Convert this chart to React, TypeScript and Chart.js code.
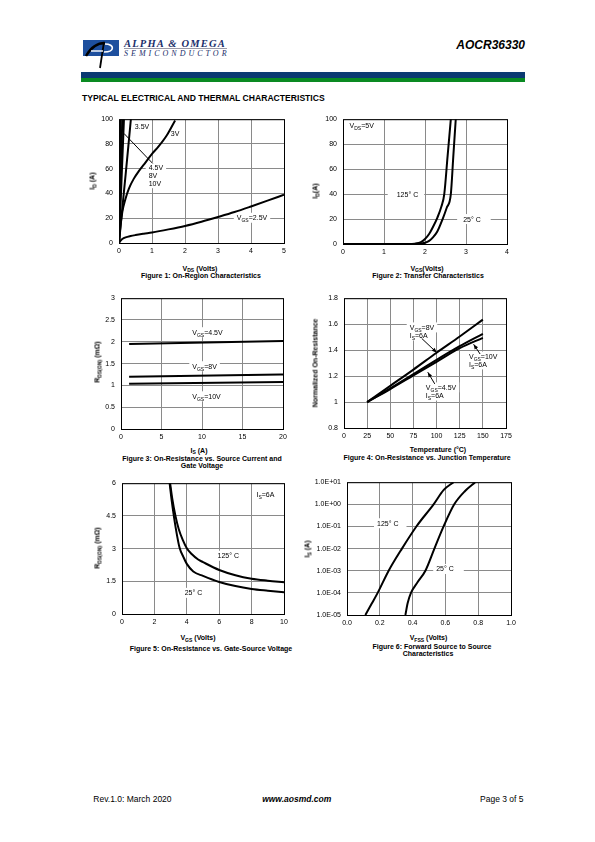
import React, { useEffect, useRef } from 'react';
import { Chart, registerables } from 'chart.js';

Chart.register(...registerables);

const FONT = "'Liberation Sans', Arial, Helvetica, sans-serif";
const SERIF = "'Liberation Serif', 'Times New Roman', serif";
const GRID = '#8a8a8a';

// ---------- Figure 1: On-Region Characteristics ----------
const F1_X_MIN = 0, F1_X_MAX = 5, F1_X_STEP = 1;
const F1_Y_MIN = 0, F1_Y_MAX = 100, F1_Y_STEP = 20;
const F1_VDS_10V = [0, 0.05];
const F1_ID_10V = [0, 100];
const F1_VDS_8V = [0, 0.1];
const F1_ID_8V = [0, 100];
const F1_VDS_45V = [0, 0.15];
const F1_ID_45V = [0, 100];
const F1_VDS_35V = [0, 0.05, 0.1, 0.2, 0.3, 0.36];
const F1_ID_35V = [0, 14, 28, 55, 83, 100];
const F1_VDS_3V = [0, 0.03, 0.1, 0.2, 0.3, 0.45, 0.6, 0.8, 1.0, 1.2, 1.45, 1.7];
const F1_ID_3V = [0, 10, 25, 36, 44, 52, 58, 65, 72, 78, 87, 99];
const F1_VDS_25V = [0, 0.05, 0.1, 0.2, 0.35, 0.5, 0.75, 1, 1.5, 2, 2.5, 3, 3.5, 4, 4.5, 5];
const F1_ID_25V = [0, 2, 3.2, 4.5, 5.6, 6.4, 7.5, 8.5, 11, 13.8, 17.2, 21, 25, 29.5, 34.2, 39];

// ---------- Figure 2: Transfer Characteristics ----------
const F2_X_MIN = 0, F2_X_MAX = 4, F2_X_STEP = 1;
const F2_Y_MIN = 0, F2_Y_MAX = 100, F2_Y_STEP = 20;
const F2_VGS_125 = [0, 1.6, 1.75, 1.9, 2.0, 2.1, 2.2, 2.3, 2.4, 2.47, 2.55, 2.63];
const F2_ID_125 = [0, 0, 0.3, 1.5, 4, 8, 14, 21, 30, 40, 70, 100];
const F2_VGS_25 = [0, 1.75, 1.9, 2.0, 2.1, 2.2, 2.3, 2.43, 2.53, 2.63, 2.69, 2.75];
const F2_ID_25 = [0, 0, 0.4, 1, 2.5, 5.5, 10, 20, 29, 40, 70, 100];

// ---------- Figure 3: On-Resistance vs. Source Current ----------
const F3_X_MIN = 0, F3_X_MAX = 20, F3_X_STEP = 5;
const F3_Y_MIN = 0, F3_Y_MAX = 3, F3_Y_STEP = 0.5;
const F3_IS = [1, 20];
const F3_R_45V = [1.95, 2.02];
const F3_R_8V = [1.2, 1.25];
const F3_R_10V = [1.04, 1.08];

// ---------- Figure 4: On-Resistance vs. Junction Temperature ----------
const F4_X_MIN = 0, F4_X_MAX = 175, F4_X_STEP = 25;
const F4_Y_MIN = 0.8, F4_Y_MAX = 1.8, F4_Y_STEP = 0.2;
const F4_TEMP = [25, 50, 75, 100, 125, 150];
const F4_R_8V = [1.0, 1.125, 1.25, 1.38, 1.505, 1.635];
const F4_R_10V = [1.0, 1.105, 1.215, 1.325, 1.43, 1.525];
const F4_R_45V = [1.0, 1.1, 1.205, 1.31, 1.415, 1.495];

// ---------- Figure 5: On-Resistance vs. Gate-Source Voltage ----------
const F5_X_MIN = 0, F5_X_MAX = 10, F5_X_STEP = 2;
const F5_Y_MIN = 0, F5_Y_MAX = 6, F5_Y_STEP = 1.5;
const F5_VGS_25 = [2.94, 3.05, 3.2, 3.35, 3.55, 3.8, 4.0, 4.4, 5, 6, 7, 8, 9, 10];
const F5_R_25 = [6.0, 5.3, 4.5, 3.8, 3.05, 2.6, 2.3, 1.95, 1.75, 1.47, 1.28, 1.15, 1.07, 1.0];
const F5_VGS_125 = [2.97, 3.1, 3.3, 3.5, 3.75, 4.0, 4.3, 4.7, 5, 6, 7, 8, 9, 10];
const F5_R_125 = [6.0, 5.3, 4.5, 3.9, 3.4, 3.02, 2.75, 2.5, 2.38, 2.02, 1.78, 1.62, 1.53, 1.46];

// ---------- Figure 6: Forward Source to Source Characteristics ----------
const F6_X_MIN = 0, F6_X_MAX = 1, F6_X_STEP = 0.2;
const F6_Y_TICKS = [1e-5, 1e-4, 1e-3, 1e-2, 1e-1, 1, 10];
const F6_V_125 = [0.112, 0.15, 0.187, 0.254, 0.335, 0.423, 0.528, 0.59, 0.65];
const F6_IS_125 = [1e-5, 3.2e-5, 1e-4, 1e-3, 1e-2, 1e-1, 1, 4.5, 10];
const F6_V_25 = [0.356, 0.37, 0.39, 0.43, 0.478, 0.533, 0.589, 0.654, 0.72, 0.782];
const F6_IS_25 = [1e-5, 3.5e-5, 1e-4, 3e-4, 1e-3, 1e-2, 1e-1, 1, 4, 10];

// ---------- layout helpers ----------
const PAD_L = 45, PAD_T = 10, PAD_R = 12, PAD_B = 16;
const MAIN = 7, SUB = 5;

type Part = { t: string; sub?: boolean };
type Ann =
  | { kind: 'text'; x: number; y: number; parts: Part[]; box?: boolean; padL?: number; padR?: number }
  | { kind: 'line'; x1: number; y1: number; x2: number; y2: number; arrow?: boolean };

const P = (t: string): Part => ({ t });
const S = (t: string): Part => ({ t, sub: true });

function setFont(ctx: CanvasRenderingContext2D, size: number) {
  ctx.font = `${size}px ${FONT}`;
}
function measureParts(ctx: CanvasRenderingContext2D, parts: Part[]) {
  let w = 0;
  for (const p of parts) {
    setFont(ctx, p.sub ? SUB : MAIN);
    w += ctx.measureText(p.t).width;
  }
  return w;
}
function drawParts(ctx: CanvasRenderingContext2D, parts: Part[], x: number, y: number) {
  ctx.fillStyle = '#000';
  ctx.textAlign = 'left';
  ctx.textBaseline = 'alphabetic';
  let cx = x;
  for (const p of parts) {
    setFont(ctx, p.sub ? SUB : MAIN);
    ctx.fillText(p.t, cx, y + (p.sub ? 4.5 : 2.5));
    cx += ctx.measureText(p.t).width;
  }
}

function annotPlugin(anns: Ann[]) {
  return {
    id: 'annot',
    beforeDatasetsDraw(chart: any) {
      const ctx: CanvasRenderingContext2D = chart.ctx;
      const xs = chart.scales.x, ys = chart.scales.y;
      ctx.save();
      for (const a of anns) {
        if (a.kind !== 'text' || !a.box) continue;
        const px = xs.getPixelForValue(a.x), py = ys.getPixelForValue(a.y);
        const w = measureParts(ctx, a.parts);
        const l = a.padL ?? 3, r = a.padR ?? 3;
        ctx.fillStyle = '#fff';
        ctx.fillRect(px - l, py - 5, w + l + r, 10);
      }
      ctx.restore();
    },
    afterDatasetsDraw(chart: any) {
      const ctx: CanvasRenderingContext2D = chart.ctx;
      const xs = chart.scales.x, ys = chart.scales.y;
      const ca = chart.chartArea;
      ctx.save();
      for (const a of anns) {
        if (a.kind === 'line') {
          const x1 = xs.getPixelForValue(a.x1), y1 = ys.getPixelForValue(a.y1);
          const x2 = xs.getPixelForValue(a.x2), y2 = ys.getPixelForValue(a.y2);
          ctx.strokeStyle = '#000';
          ctx.lineWidth = 1;
          ctx.beginPath();
          ctx.moveTo(x1, y1);
          ctx.lineTo(x2, y2);
          ctx.stroke();
          if (a.arrow) {
            const ang = Math.atan2(y2 - y1, x2 - x1);
            const L = 5, W = 2;
            ctx.fillStyle = '#000';
            ctx.beginPath();
            ctx.moveTo(x2, y2);
            ctx.lineTo(x2 - L * Math.cos(ang) + W * Math.sin(ang), y2 - L * Math.sin(ang) - W * Math.cos(ang));
            ctx.lineTo(x2 - L * Math.cos(ang) - W * Math.sin(ang), y2 - L * Math.sin(ang) + W * Math.cos(ang));
            ctx.closePath();
            ctx.fill();
          }
        }
      }
      for (const a of anns) {
        if (a.kind !== 'text') continue;
        drawParts(ctx, a.parts, xs.getPixelForValue(a.x), ys.getPixelForValue(a.y));
      }
      ctx.strokeStyle = '#000';
      ctx.lineWidth = 1;
      ctx.strokeRect(ca.left + 0.5, ca.top + 0.5, ca.right - ca.left, ca.bottom - ca.top);
      ctx.restore();
    },
  };
}

type Series = { x: number[]; y: number[] };
type AxisCfg = {
  min: number;
  max: number;
  step?: number;
  log?: boolean;
  ticks?: number[];
  fmt?: (v: number) => string;
};

const fmtPlain = (v: number) => String(Math.round(v * 1000) / 1000);

function axis(c: AxisCfg, isX: boolean) {
  const fmt = c.fmt ?? fmtPlain;
  const o: any = {
    type: c.log ? 'logarithmic' : 'linear',
    min: c.min,
    max: c.max,
    grid: { color: GRID, lineWidth: 1, drawTicks: false },
    border: { display: false },
    ticks: {
      font: { family: FONT, size: 7 },
      color: '#000',
      padding: isX ? 4 : 6,
      maxRotation: 0,
      autoSkip: false,
      callback: (v: any) => fmt(Number(v)),
    },
    afterFit: (s: any) => {
      if (isX) s.height = PAD_B;
      else s.width = PAD_L;
    },
  };
  if (c.step !== undefined) o.ticks.stepSize = c.step;
  if (c.ticks) {
    const tv = c.ticks;
    o.afterBuildTicks = (s: any) => {
      s.ticks = tv.map((v) => ({ value: v }));
    };
  }
  return o;
}

function makeConfig(series: Series[], xa: AxisCfg, ya: AxisCfg, anns: Ann[]) {
  return {
    type: 'line' as const,
    data: {
      datasets: series.map((s) => ({
        data: s.x.map((v, i) => ({ x: v, y: s.y[i] })),
        borderColor: '#000',
        borderWidth: 2,
        pointRadius: 0,
        fill: false,
        cubicInterpolationMode: 'monotone' as const,
      })),
    },
    options: {
      responsive: false,
      animation: false as const,
      events: [] as any[],
      layout: { padding: { left: 0, top: PAD_T, right: PAD_R, bottom: 0 } },
      plugins: { legend: { display: false }, tooltip: { enabled: false } },
      scales: { x: axis(xa, true), y: axis(ya, false) },
    },
    plugins: [annotPlugin(anns)],
  };
}

type Rect = { l: number; t: number; w: number; h: number };

function Plot({ rect, build }: { rect: Rect; build: () => any }) {
  const ref = useRef<HTMLCanvasElement>(null);
  useEffect(() => {
    const chart = new Chart(ref.current as HTMLCanvasElement, build());
    return () => chart.destroy();
  }, []);
  const w = rect.w + PAD_L + PAD_R;
  const h = rect.h + PAD_T + PAD_B;
  return (
    <canvas
      ref={ref}
      width={w}
      height={h}
      style={{ position: 'absolute', left: rect.l - PAD_L, top: rect.t - PAD_T, width: w, height: h }}
    />
  );
}

function Txt(props: {
  x: number;
  y: number;
  children: React.ReactNode;
  size?: number;
  bold?: boolean;
  italic?: boolean;
  align?: 'left' | 'center' | 'right';
  rotate?: boolean;
  family?: string;
  color?: string;
  spacing?: number;
}) {
  const { x, y, children, size = 7, bold = false, italic = false, align = 'center', rotate = false, family = FONT, color = '#000', spacing } = props;
  const tx = align === 'center' ? '-50%' : align === 'right' ? '-100%' : '0';
  return (
    <div
      style={{
        position: 'absolute',
        left: x,
        top: y,
        transform: `translate(${tx}, -50%)${rotate ? ' rotate(-90deg)' : ''}`,
        whiteSpace: 'nowrap',
        fontFamily: family,
        fontSize: size,
        fontWeight: bold ? 700 : 400,
        fontStyle: italic ? 'italic' : 'normal',
        lineHeight: 1,
        color,
        letterSpacing: spacing,
      }}
    >
      {children}
    </div>
  );
}

const Sb = ({ children }: { children: React.ReactNode }) => (
  <span style={{ fontSize: '0.72em', position: 'relative', top: '0.3em' }}>{children}</span>
);

const R1: Rect = { l: 119, t: 119, w: 165, h: 124 };
const R2: Rect = { l: 343, t: 119, w: 164, h: 125 };
const R3: Rect = { l: 121, t: 298, w: 162, h: 131 };
const R4: Rect = { l: 344, t: 298, w: 162, h: 130 };
const R5: Rect = { l: 122, t: 483, w: 162, h: 131 };
const R6: Rect = { l: 347, t: 482, w: 164, h: 133 };

const build1 = () =>
  makeConfig(
    [
      { x: F1_VDS_10V, y: F1_ID_10V },
      { x: F1_VDS_8V, y: F1_ID_8V },
      { x: F1_VDS_45V, y: F1_ID_45V },
      { x: F1_VDS_35V, y: F1_ID_35V },
      { x: F1_VDS_3V, y: F1_ID_3V },
      { x: F1_VDS_25V, y: F1_ID_25V },
    ],
    { min: F1_X_MIN, max: F1_X_MAX, step: F1_X_STEP },
    { min: F1_Y_MIN, max: F1_Y_MAX, step: F1_Y_STEP },
    [
      { kind: 'text', x: 0.48, y: 94.4, parts: [P('3.5V')] },
      { kind: 'text', x: 1.57, y: 88.7, parts: [P('3V')] },
      { kind: 'text', x: 0.9, y: 61.2, parts: [P('4.5V')], box: true },
      { kind: 'text', x: 0.9, y: 54.3, parts: [P('8V')], box: true, padR: 9 },
      { kind: 'text', x: 0.9, y: 48.3, parts: [P('10V')], box: true, padR: 6 },
      { kind: 'line', x1: 1.02, y1: 64.3, x2: 0.15, y2: 88.5 },
      { kind: 'text', x: 3.57, y: 20.4, parts: [P('V'), S('GS'), P('=2.5V')], box: true },
    ]
  );

const build2 = () =>
  makeConfig(
    [
      { x: F2_VGS_125, y: F2_ID_125 },
      { x: F2_VGS_25, y: F2_ID_25 },
    ],
    { min: F2_X_MIN, max: F2_X_MAX, step: F2_X_STEP },
    { min: F2_Y_MIN, max: F2_Y_MAX, step: F2_Y_STEP },
    [
      { kind: 'text', x: 0.16, y: 94.6, parts: [P('V'), S('DS'), P('=5V')] },
      { kind: 'text', x: 1.31, y: 40, parts: [P('125° C')], box: true, padL: 9, padR: 6 },
      { kind: 'text', x: 2.93, y: 20, parts: [P('25° C')], box: true, padL: 6, padR: 10 },
    ]
  );

const build3 = () =>
  makeConfig(
    [
      { x: F3_IS, y: F3_R_45V },
      { x: F3_IS, y: F3_R_8V },
      { x: F3_IS, y: F3_R_10V },
    ],
    { min: F3_X_MIN, max: F3_X_MAX, step: F3_X_STEP },
    { min: F3_Y_MIN, max: F3_Y_MAX, step: F3_Y_STEP },
    [
      { kind: 'text', x: 8.8, y: 2.22, parts: [P('V'), S('GS'), P('=4.5V')], box: true },
      { kind: 'text', x: 8.8, y: 1.44, parts: [P('V'), S('GS'), P('=8V')], box: true },
      { kind: 'text', x: 8.8, y: 0.75, parts: [P('V'), S('GS'), P('=10V')], box: true },
    ]
  );

const build4 = () =>
  makeConfig(
    [
      { x: F4_TEMP, y: F4_R_8V },
      { x: F4_TEMP, y: F4_R_10V },
      { x: F4_TEMP, y: F4_R_45V },
    ],
    { min: F4_X_MIN, max: F4_X_MAX, step: F4_X_STEP },
    { min: F4_Y_MIN, max: F4_Y_MAX, step: F4_Y_STEP },
    [
      { kind: 'text', x: 71, y: 1.575, parts: [P('V'), S('GS'), P('=8V')], box: true },
      { kind: 'text', x: 71, y: 1.513, parts: [P('I'), S('S'), P('=6A')], box: true, padR: 8 },
      { kind: 'line', x1: 84, y1: 1.49, x2: 100.3, y2: 1.38, arrow: true },
      { kind: 'text', x: 135, y: 1.35, parts: [P('V'), S('GS'), P('=10V')], box: true },
      { kind: 'text', x: 135, y: 1.29, parts: [P('I'), S('S'), P('=6A')], box: true, padR: 10 },
      { kind: 'line', x1: 147, y1: 1.37, x2: 140, y2: 1.445, arrow: true },
      { kind: 'text', x: 88.4, y: 1.113, parts: [P('V'), S('GS'), P('=4.5V')], box: true },
      { kind: 'text', x: 88.4, y: 1.05, parts: [P('I'), S('S'), P('=6A')], box: true, padR: 12 },
      { kind: 'line', x1: 98, y1: 1.14, x2: 90.5, y2: 1.23, arrow: true },
    ]
  );

const build5 = () =>
  makeConfig(
    [
      { x: F5_VGS_125, y: F5_R_125 },
      { x: F5_VGS_25, y: F5_R_25 },
    ],
    { min: F5_X_MIN, max: F5_X_MAX, step: F5_X_STEP },
    { min: F5_Y_MIN, max: F5_Y_MAX, step: F5_Y_STEP },
    [
      { kind: 'text', x: 8.3, y: 5.46, parts: [P('I'), S('S'), P('=6A')] },
      { kind: 'text', x: 5.9, y: 2.67, parts: [P('125° C')], box: true },
      { kind: 'text', x: 3.87, y: 0.97, parts: [P('25° C')], box: true },
    ]
  );

const fmtE = (v: number) => {
  const e = Math.round(Math.log10(v));
  return '1.0E' + (e < 0 ? '-' : '+') + String(Math.abs(e)).padStart(2, '0');
};

const build6 = () =>
  makeConfig(
    [
      { x: F6_V_125, y: F6_IS_125 },
      { x: F6_V_25, y: F6_IS_25 },
    ],
    { min: F6_X_MIN, max: F6_X_MAX, step: F6_X_STEP, fmt: (v) => v.toFixed(1) },
    { min: F6_Y_TICKS[0], max: F6_Y_TICKS[F6_Y_TICKS.length - 1], log: true, ticks: F6_Y_TICKS, fmt: fmtE },
    [
      { kind: 'text', x: 0.183, y: 0.14, parts: [P('125° C')], box: true, padR: 8 },
      { kind: 'text', x: 0.544, y: 1.2e-3, parts: [P('25° C')], box: true, padR: 10 },
    ]
  );

function Logo() {
  return (
    <svg style={{ position: 'absolute', left: 80, top: 36 }} width={45} height={35}>
      <rect x={3} y={4} width={36} height={16} fill="#1d4f9e" />
      <path d="M 6 20 C 11 11, 17 7, 25 7" stroke="#000" strokeWidth={2.4} fill="none" />
      <path d="M 24 6 L 20 32" stroke="#000" strokeWidth={1.8} fill="none" />
      <path d="M 25 8 C 35 8, 35 16, 24 16" stroke="#fff" strokeWidth={1.6} fill="none" />
      <path d="M 11 15 L 23 15" stroke="#fff" strokeWidth={1.4} fill="none" />
    </svg>
  );
}

export default function App() {
  return (
    <div style={{ position: 'absolute', left: 0, top: 0, width: 595, height: 842, background: '#fff', overflow: 'hidden' }}>
      {/* header */}
      <Logo />
      <Txt x={124} y={43.5} align="left" family={SERIF} size={10.5} bold italic color="#1b2f6b" spacing={1.2}>
        ALPHA &amp; OMEGA
      </Txt>
      <div style={{ position: 'absolute', left: 124, top: 48, width: 103, height: 1, background: '#9a9aa8' }} />
      <Txt x={124} y={53.5} align="left" family={SERIF} size={8} italic color="#1b2f6b" spacing={3.0}>
        SEMICONDUCTOR
      </Txt>
      <Txt x={525} y={45} align="right" size={12} bold italic>
        AOCR36330
      </Txt>
      <div style={{ position: 'absolute', left: 81, top: 72, width: 444, height: 6, background: '#0b3a72' }} />
      <div style={{ position: 'absolute', left: 81, top: 78, width: 444, height: 4, background: '#0a8a22' }} />
      <Txt x={82} y={98.3} align="left" size={8.6} bold>
        TYPICAL ELECTRICAL AND THERMAL CHARACTERISTICS
      </Txt>

      {/* Figure 1 */}
      <Plot rect={R1} build={build1} />
      <Txt x={91.5} y={181} rotate bold>
        I<Sb>D</Sb> (A)
      </Txt>
      <Txt x={200} y={268.7} bold>
        V<Sb>DS</Sb> (Volts)
      </Txt>
      <Txt x={201} y={275} bold>
        Figure 1: On-Region Characteristics
      </Txt>

      {/* Figure 2 */}
      <Plot rect={R2} build={build2} />
      <Txt x={315} y={191} rotate bold>
        I<Sb>D</Sb>(A)
      </Txt>
      <Txt x={427} y={268.7} bold>
        V<Sb>GS</Sb>(Volts)
      </Txt>
      <Txt x={428} y={275} bold>
        Figure 2: Transfer Characteristics
      </Txt>

      {/* Figure 3 */}
      <Plot rect={R3} build={build3} />
      <Txt x={96.5} y={362} rotate bold>
        R<Sb>DS(ON)</Sb> (mΩ)
      </Txt>
      <Txt x={199} y={450.5} bold>
        I<Sb>S</Sb> (A)
      </Txt>
      <Txt x={202} y={457.5} bold>
        Figure 3: On-Resistance vs. Source Current and
      </Txt>
      <Txt x={202} y={464.5} bold>
        Gate Voltage
      </Txt>

      {/* Figure 4 */}
      <Plot rect={R4} build={build4} />
      <Txt x={315} y={363} rotate bold>
        Normalized On-Resistance
      </Txt>
      <Txt x={438} y={449} bold>
        Temperature (°C)
      </Txt>
      <Txt x={427} y={456.7} bold>
        Figure 4: On-Resistance vs. Junction Temperature
      </Txt>

      {/* Figure 5 */}
      <Plot rect={R5} build={build5} />
      <Txt x={96.5} y={548} rotate bold>
        R<Sb>DS(ON)</Sb> (mΩ)
      </Txt>
      <Txt x={198} y={638.3} bold>
        V<Sb>GS</Sb> (Volts)
      </Txt>
      <Txt x={211} y={647.5} bold>
        Figure 5: On-Resistance vs. Gate-Source Voltage
      </Txt>

      {/* Figure 6 */}
      <Plot rect={R6} build={build6} />
      <Txt x={307} y={549} rotate bold>
        I<Sb>S</Sb> (A)
      </Txt>
      <Txt x={428.5} y={638.3} bold>
        V<Sb>FSS</Sb> (Volts)
      </Txt>
      <Txt x={432} y={645.7} bold>
        Figure 6: Forward Source to Source
      </Txt>
      <Txt x={428} y={652.7} bold>
        Characteristics
      </Txt>

      {/* footer */}
      <Txt x={93.3} y={799.3} align="left" size={8.5}>
        Rev.1.0: March 2020
      </Txt>
      <Txt x={296.7} y={799.3} size={8.5} bold italic>
        www.aosmd.com
      </Txt>
      <Txt x={523.5} y={799.3} align="right" size={8.5}>
        Page 3 of 5
      </Txt>
    </div>
  );
}
